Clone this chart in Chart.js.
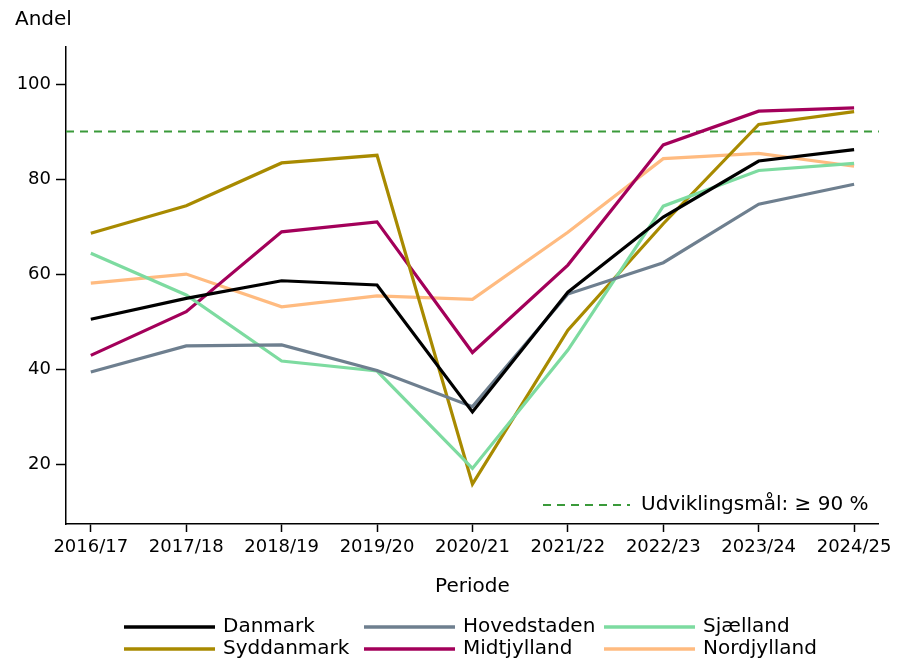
<!DOCTYPE html>
<html>
<head>
<meta charset="utf-8">
<script src="https://cdn.jsdelivr.net/npm/chart.js@4/dist/chart.umd.min.js"></script>
<style>
  html, body { margin: 0; padding: 0; background: #fff; }
  #wrap { width: 897px; height: 662px; }
</style>
</head>
<body>
<div id="wrap"><canvas id="graf" width="897" height="662"></canvas></div>
<script>
const perioder    = ['2016/17', '2017/18', '2018/19', '2019/20', '2020/21', '2021/22', '2022/23', '2023/24', '2024/25'];
const danmark     = [50.5, 54.9, 58.6, 57.7, 31.0, 56.2, 72.0, 83.8, 86.2];
const hovedstaden = [39.4, 44.9, 45.1, 39.7, 32.1, 55.8, 62.4, 74.7, 78.9];
const sjaelland   = [64.4, 55.6, 41.7, 39.6, 19.1, 44.0, 74.3, 81.8, 83.3];
const syddanmark  = [68.6, 74.4, 83.4, 85.0, 15.8, 48.2, 70.6, 91.5, 94.2];
const midtjylland = [42.9, 52.1, 68.9, 71.0, 43.5, 61.9, 87.2, 94.3, 95.0];
const nordjylland = [58.1, 60.0, 53.1, 55.4, 54.7, 68.8, 84.3, 85.4, 82.7];
const yTicks      = [20, 40, 60, 80, 100];
const maal        = 90;

const FONT = "'DejaVu Sans', sans-serif";

const serier = [
  { navn: 'Danmark',     data: danmark,     farve: '#000000' },
  { navn: 'Hovedstaden', data: hovedstaden, farve: '#6e7f8f' },
  { navn: 'Sjælland',    data: sjaelland,   farve: '#7ddba0' },
  { navn: 'Syddanmark',  data: syddanmark,  farve: '#a88a00' },
  { navn: 'Midtjylland', data: midtjylland, farve: '#a3005a' },
  { navn: 'Nordjylland', data: nordjylland, farve: '#ffbb80' },
];

const datasets = serier.map(s => ({
  label: s.navn,
  data: s.data.map((v, i) => ({ x: i, y: v })),
  borderColor: s.farve,
  backgroundColor: s.farve,
  borderWidth: 3.2,
  pointRadius: 0,
  tension: 0,
}));

datasets.push({
  label: 'maal',
  data: [{ x: -0.26, y: maal }, { x: 8.26, y: maal }],
  borderColor: '#3a9a3a',
  borderWidth: 2,
  borderDash: [8, 6],
  pointRadius: 0,
});

// tekster og legende tegnes selv
const tekster = {
  id: 'tekster',
  afterDraw(chart) {
    const c = chart.ctx;
    const area = chart.chartArea;
    c.save();
    c.fillStyle = '#000';
    c.font = `20px ${FONT}`;
    c.textBaseline = 'middle';
    c.textAlign = 'left';
    c.fillText('Andel', 15, 20);
    c.textAlign = 'center';
    c.fillText('Periode', (area.left + area.right) / 2, 587);

    // maal-legende i plottet
    c.strokeStyle = '#3a9a3a';
    c.lineWidth = 2;
    c.setLineDash([8, 6]);
    c.beginPath();
    c.moveTo(543, 505);
    c.lineTo(630, 505);
    c.stroke();
    c.setLineDash([]);
    c.textAlign = 'left';
    c.fillText('Udviklingsmål: ≥ 90 %', 641, 505);

    // legende nederst
    const kolX = [124, 364, 604];
    const radY = [627, 649];
    serier.forEach((s, i) => {
      const x = kolX[i % 3];
      const y = radY[Math.floor(i / 3)];
      c.strokeStyle = s.farve;
      c.lineWidth = 3.5;
      c.beginPath();
      c.moveTo(x, y);
      c.lineTo(x + 91, y);
      c.stroke();
      c.fillText(s.navn, x + 99, y);
    });
    c.restore();
  }
};

new Chart(document.getElementById('graf'), {
  type: 'line',
  data: { datasets },
  options: {
    responsive: false,
    animation: false,
    layout: { padding: { top: 47, right: 17, left: 0, bottom: 0 } },
    plugins: { legend: { display: false }, tooltip: { enabled: false } },
    scales: {
      x: {
        type: 'linear',
        min: -0.26, max: 8.26,
        afterBuildTicks: s => { s.ticks = perioder.map((_, i) => ({ value: i })); },
        afterFit: s => { s.height = 662 - 524; },
        grid: { drawOnChartArea: false, color: '#000', tickLength: 8, tickWidth: 1.5 },
        border: { color: '#000', width: 1.5 },
        ticks: { callback: v => perioder[v], color: '#000', font: { family: FONT, size: 18 }, padding: 5, maxRotation: 0, autoSkip: false }
      },
      y: {
        min: 7.4, max: 107.8,
        afterBuildTicks: s => { s.ticks = yTicks.map(v => ({ value: v })); },
        afterFit: s => { s.width = 66; },
        grid: { drawOnChartArea: false, color: '#000', tickLength: 10, tickWidth: 1.5 },
        border: { color: '#000', width: 1.5 },
        ticks: { color: '#000', font: { family: FONT, size: 18 }, padding: 5 }
      }
    }
  },
  plugins: [tekster]
});
</script>
</body>
</html>
